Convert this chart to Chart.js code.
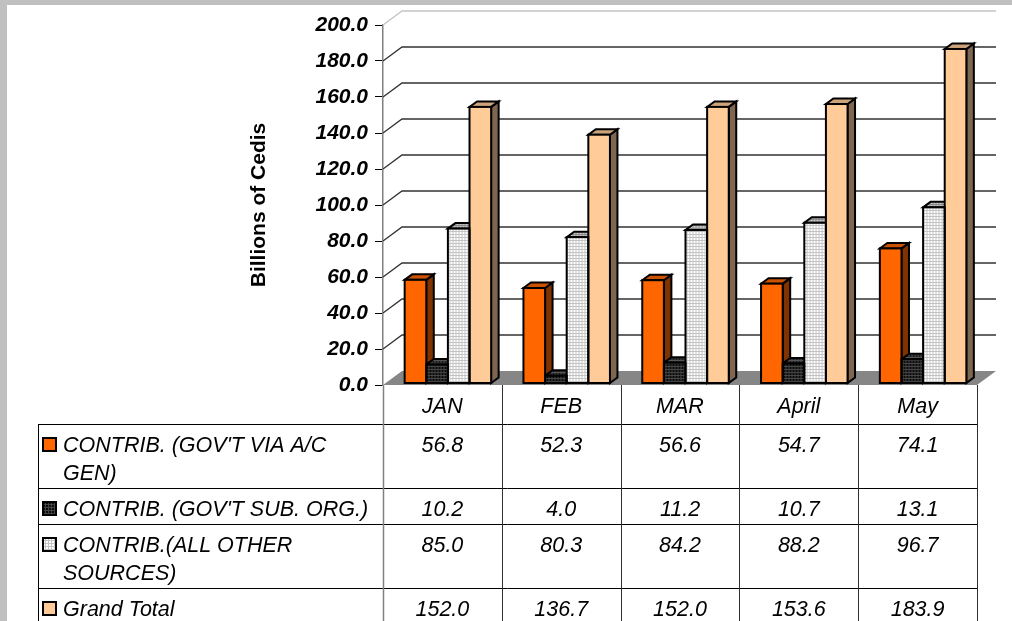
<!DOCTYPE html>
<html>
<head>
<meta charset="utf-8">
<script src="https://cdn.jsdelivr.net/npm/chart.js@4.4.1/dist/chart.umd.min.js"></script>
<style>
  html, body { margin: 0; padding: 0; background: #fff; }
  #wrap { position: relative; width: 1012px; height: 621px; }
</style>
</head>
<body>
<div id="wrap"><canvas id="myChart"></canvas></div>
<script>
const categories = ["JAN", "FEB", "MAR", "April", "May"];
const seriesNames = [
  "CONTRIB. (GOV'T VIA A/C GEN)",
  "CONTRIB. (GOV'T SUB. ORG.)",
  "CONTRIB.(ALL OTHER SOURCES)",
  "Grand Total"
];
const govViaAcGen = [56.8, 52.3, 56.6, 54.7, 74.1];
const govSubOrg = [10.2, 4.0, 11.2, 10.7, 13.1];
const allOtherSources = [85.0, 80.3, 84.2, 88.2, 96.7];
const grandTotal = [152.0, 136.7, 152.0, 153.6, 183.9];
const yTicks = [0, 20, 40, 60, 80, 100, 120, 140, 160, 180, 200];

const seriesValues = [govViaAcGen, govSubOrg, allOtherSources, grandTotal];

const canvas = document.getElementById("myChart");
const ctx = canvas.getContext("2d");

const FONT = '"Liberation Sans", Arial, sans-serif';
Chart.defaults.font.family = FONT;

// 3d look
const wallDX = 19, wallDY = -14;
const barDX = 7.5, barDY = -5.5;
const barShift = 5.5;

function gridPattern(bg, line, size) {
  const p = document.createElement("canvas");
  p.width = p.height = size;
  const g = p.getContext("2d");
  g.fillStyle = bg;
  g.fillRect(0, 0, size, size);
  g.fillStyle = line;
  g.fillRect(0, 0, 1, size);
  g.fillRect(0, 0, size, 1);
  return ctx.createPattern(p, "repeat");
}

const fills = [
  { front: "#FF6600", top: "#CC5200", side: "#7F3300" },
  { front: gridPattern("#0a0a0a", "#454545", 3), top: gridPattern("#1a1a1a", "#555", 3), side: "#000" },
  { front: gridPattern("#ffffff", "#c4c4c4", 3), top: gridPattern("#c8c8c8", "#8c8c8c", 3), side: gridPattern("#a0a0a0", "#707070", 3) },
  { front: "#FFCC99", top: "#CCA37A", side: "#7F6650" }
];

function barBoxes(chart) {
  const out = [];
  chart.data.datasets.forEach((ds, i) => {
    chart.getDatasetMeta(i).data.forEach(el => {
      const p = el.getProps(["x", "y", "base", "width"], true);
      out.push({ i, l: p.x - p.width / 2, r: p.x + p.width / 2, t: Math.min(p.y, p.base), b: p.base });
    });
  });
  return out;
}

function wrap(c, text, maxW) {
  const words = text.split(" ");
  const lines = [];
  let line = "";
  words.forEach(w => {
    const t = line ? line + " " + w : w;
    if (line && c.measureText(t).width > maxW) {
      lines.push(line);
      line = w;
    } else {
      line = t;
    }
  });
  lines.push(line);
  return lines;
}

const threeD = {
  id: "threeD",
  beforeDraw(chart) {
    const c = chart.ctx;
    c.save();
    c.fillStyle = "#c0c0c0";
    c.fillRect(0, 0, chart.width, chart.height);
    c.fillStyle = "#fff";
    c.fillRect(7, 5, chart.width, chart.height);
    c.restore();
  },
  beforeDatasetsDraw(chart) {
    const c = chart.ctx, a = chart.chartArea, y = chart.scales.y;
    c.save();
    // floor
    c.fillStyle = "#868686";
    c.beginPath();
    c.moveTo(a.left, a.bottom);
    c.lineTo(a.right, a.bottom);
    c.lineTo(a.right + wallDX, a.bottom + wallDY);
    c.lineTo(a.left + wallDX, a.bottom + wallDY);
    c.closePath();
    c.fill();
    // side + back wall grid
    yTicks.forEach(v => {
      if (v === 0) return;
      const py = y.getPixelForValue(v);
      c.strokeStyle = v === yTicks[yTicks.length - 1] ? "#c4c4c4" : "#333";
      c.lineWidth = 1.3;
      c.beginPath();
      c.moveTo(a.left, py);
      c.lineTo(a.left + wallDX, py + wallDY);
      c.lineTo(a.right + wallDX, py + wallDY);
      c.stroke();
    });
    c.restore();

    // bar sides and tops, fronts come from chart.js
    c.save();
    c.translate(barShift, 0);
    c.lineWidth = 2;
    c.strokeStyle = "#000";
    c.lineJoin = "miter";
    const boxes = barBoxes(chart);
    boxes.forEach(b => {
      c.fillStyle = fills[b.i].side;
      c.beginPath();
      c.moveTo(b.r, b.t);
      c.lineTo(b.r + barDX, b.t + barDY);
      c.lineTo(b.r + barDX, b.b + barDY);
      c.lineTo(b.r, b.b);
      c.closePath();
      c.fill();
      c.stroke();
    });
    boxes.forEach(b => {
      c.fillStyle = fills[b.i].top;
      c.beginPath();
      c.moveTo(b.l, b.t);
      c.lineTo(b.r, b.t);
      c.lineTo(b.r + barDX, b.t + barDY);
      c.lineTo(b.l + barDX, b.t + barDY);
      c.closePath();
      c.fill();
      c.stroke();
    });
  },
  afterDatasetsDraw(chart) {
    const c = chart.ctx;
    barBoxes(chart).forEach(b => c.strokeRect(b.l, b.t, b.r - b.l, b.b - b.t));
    c.restore();
  },
  afterDraw(chart) {
    // data table under the chart
    const c = chart.ctx, a = chart.chartArea;
    const n = categories.length;
    const colW = a.width / n;
    const tableLeft = 38, labelX = 63, lineH = 28;
    c.save();
    c.font = "italic 21.5px " + FONT;
    c.textBaseline = "alphabetic";
    let top = a.bottom + 39;
    const firstTop = top;
    seriesNames.forEach((name, i) => {
      const lines = wrap(c, name, 312);
      c.strokeStyle = "#000";
      c.lineWidth = 1;
      c.beginPath();
      c.moveTo(tableLeft, top + 0.5);
      c.lineTo(a.right, top + 0.5);
      c.stroke();
      // key
      c.fillStyle = fills[i].front;
      c.fillRect(43, top + 14, 13, 13);
      c.lineWidth = 2;
      c.strokeRect(43, top + 14, 13, 13);
      c.fillStyle = "#000";
      c.textAlign = "left";
      lines.forEach((ln, k) => c.fillText(ln, labelX, top + 28 + k * lineH));
      c.textAlign = "center";
      seriesValues[i].forEach((v, j) => {
        c.fillText(v.toFixed(1), a.left + colW * (j + 0.5), top + 28);
      });
      top += lines.length * lineH + 8;
    });
    // verticals
    c.lineWidth = 1;
    c.strokeStyle = "#000";
    c.beginPath();
    c.moveTo(tableLeft + 0.5, firstTop);
    c.lineTo(tableLeft + 0.5, chart.height);
    c.stroke();
    for (let k = 0; k <= n; k++) {
      const x = Math.round(a.left + colW * k) + 0.5;
      c.strokeStyle = k === 0 ? "#808080" : "#303030";
      c.lineWidth = k === 0 ? 1.5 : 1;
      c.beginPath();
      c.moveTo(x, a.bottom);
      c.lineTo(x, chart.height);
      c.stroke();
    }
    c.restore();
  }
};

new Chart(ctx, {
  type: "bar",
  data: {
    labels: categories,
    datasets: seriesValues.map((vals, i) => ({
      label: seriesNames[i],
      data: vals,
      yAxisID: "yBars",
      backgroundColor: fills[i].front,
      borderWidth: 0,
      barPercentage: 1,
      categoryPercentage: 0.728
    }))
  },
  options: {
    responsive: true,
    maintainAspectRatio: false,
    animation: false,
    layout: { padding: { left: 240, top: 25, right: 35, bottom: 0 } },
    plugins: {
      legend: { display: false },
      tooltip: { enabled: false }
    },
    scales: {
      x: {
        type: "category",
        offset: true,
        grid: { display: false, drawTicks: false },
        border: { display: false },
        ticks: { color: "#000", padding: 9, font: { size: 21.5, style: "italic" } },
        afterFit: s => { s.height = 236; }
      },
      y: {
        type: "linear",
        min: 0,
        max: 200,
        afterBuildTicks: s => { s.ticks = yTicks.map(v => ({ value: v })); },
        ticks: {
          color: "#000",
          padding: 7,
          font: { size: 21, weight: "bold", style: "italic" },
          callback: v => Number(v).toFixed(1)
        },
        grid: { drawOnChartArea: false, tickLength: 8, color: "#000" },
        border: { color: "#808080", width: 1.5 },
        title: {
          display: true,
          text: "Billions of Cedis",
          color: "#000",
          font: { size: 21, weight: "bold" },
          padding: { top: 7, bottom: 0 }
        },
        afterFit: s => { s.width = 143; }
      },
      yBars: { type: "linear", display: false, min: -1.1, max: 197.1 }
    }
  },
  plugins: [threeD]
});
</script>
</body>
</html>
